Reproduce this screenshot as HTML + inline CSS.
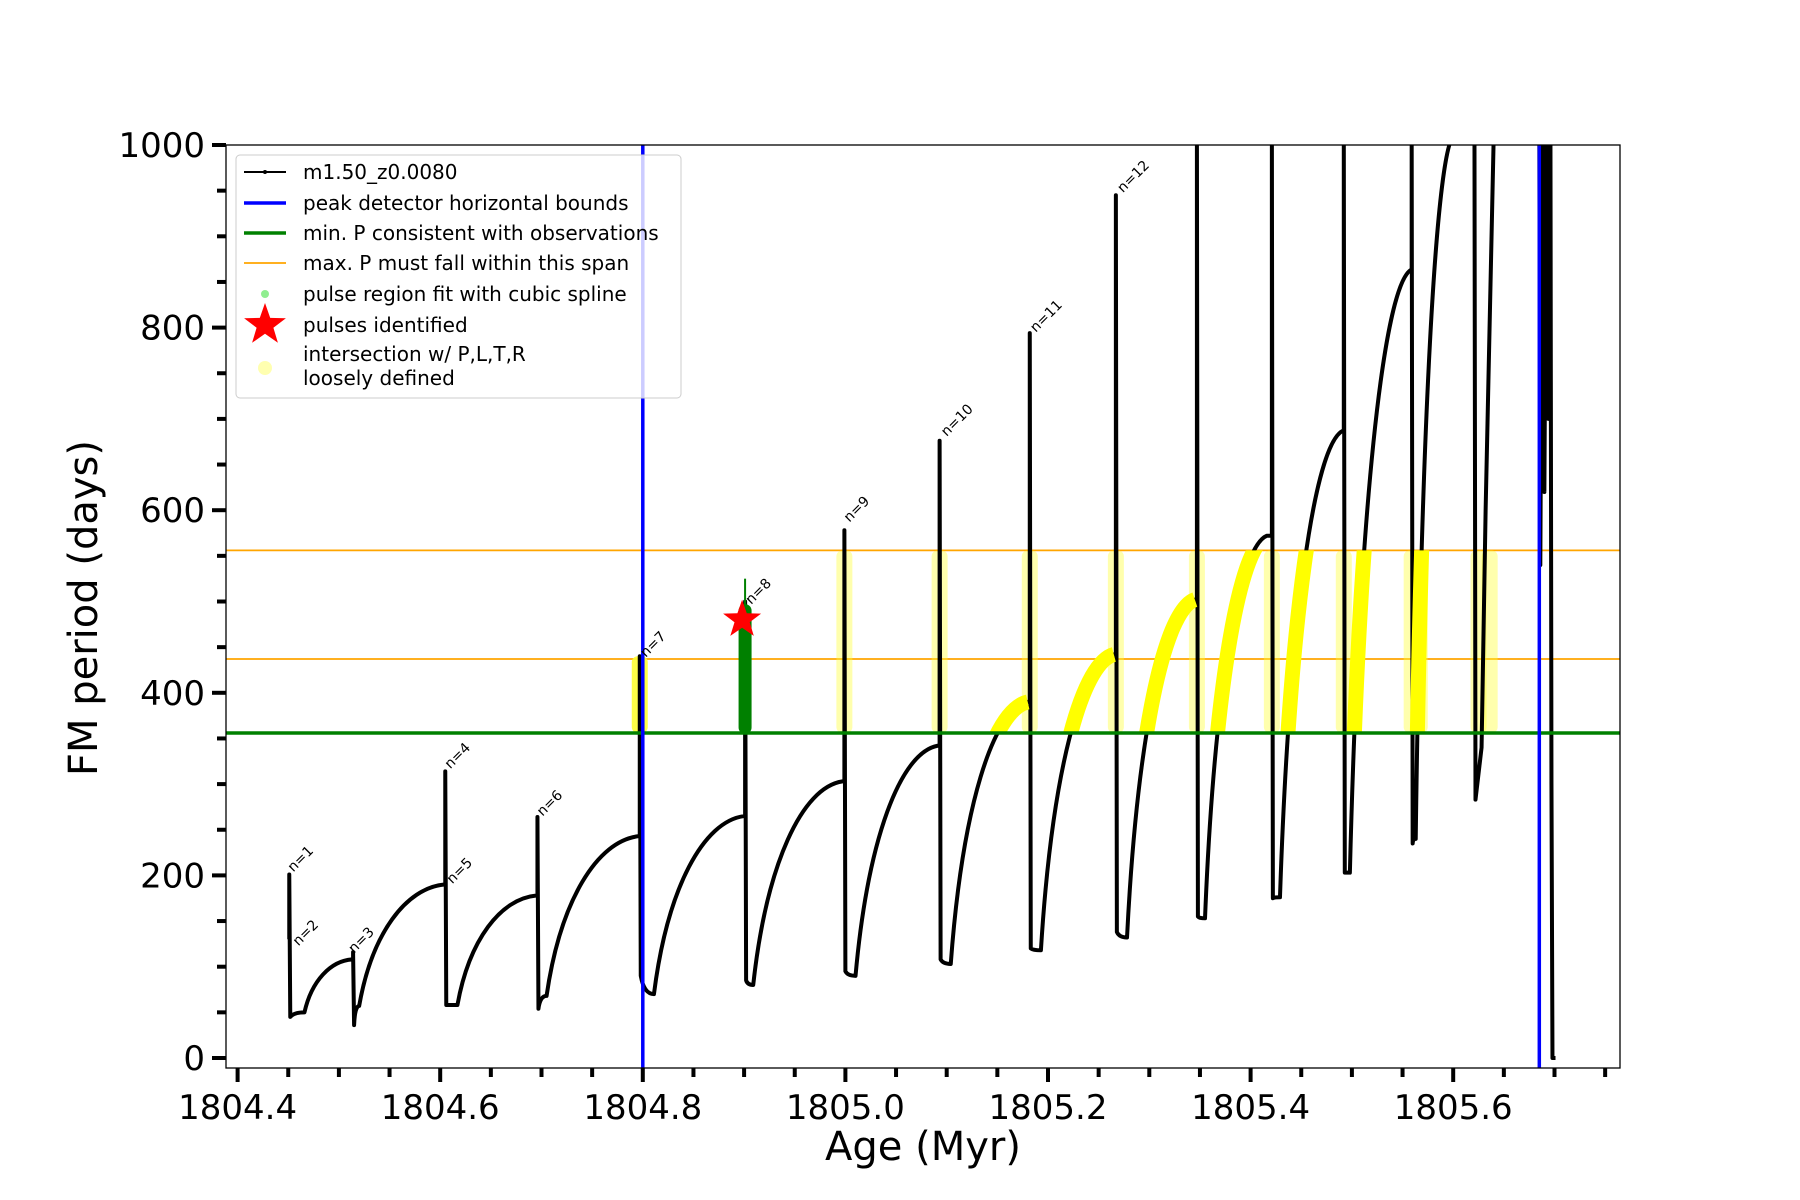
<!DOCTYPE html>
<html><head><meta charset="utf-8"><style>
body{margin:0;background:#fff}
svg{display:block;font-family:"DejaVu Sans","Liberation Sans",sans-serif}
</style></head><body>
<svg id="chart" width="1800" height="1200" viewBox="0 0 1800 1200">
<defs><clipPath id="band"><rect id="bandRect" x="0" y="0" width="1800" height="100"/></clipPath>
<clipPath id="plot"><rect x="226" y="145" width="1394" height="923"/></clipPath></defs>
<g id="plotArea" clip-path="url(#plot)"></g>
<g id="axes"></g>
</svg>
<script>
const spikeAge=[1804.451,1804.514,1804.605,1804.696,1804.797,1804.901,1804.999,1805.093,1805.182,1805.267,1805.347,1805.421,1805.492,1805.559];
const spikeTop=[201,116,314,264,440,500,578,676,794,945,1010,1010,1010,1010];
const dropP=[45,36,58,54,90,85,95,108,120,138,155,175,203,235];
const minAge=[1804.466,1804.520,1804.617,1804.705,1804.811,1804.909,1805.010,1805.104,1805.193,1805.278,1805.355,1805.429,1805.498,1805.563];
const minP=[50,57,58,68,70,80,90,103,118,132,153,176,203,240];
const endAge=[1804.513,1804.604,1804.695,1804.796,1804.900,1804.997,1805.091,1805.180,1805.265,1805.345,1805.416,1805.491,1805.558,1805.600];
const endP=[108,190,178,243,265,303,342,390,442,502,572,687,863,1010];
const spikeYellow=[0,0,0,0,0.9,0,0.4,0.4,0.4,0.4,0.4,0.4,0.4,0.4];
const extraYellowAges=[1805.567,1805.625,1805.636];
const tailAges=[1805.621,1805.622,1805.628,1805.632,1805.640];
const tailP=[1010,283,340,600,1010];
const endAges=[1805.685,1805.686,1805.688,1805.690,1805.692,1805.694,1805.696,1805.697,1805.698,1805.701];
const endPs=[1010,540,1010,620,1010,700,1010,300,0,0];
const labelText=["n=1","n=2","n=3","n=4","n=5","n=6","n=7","n=8","n=9","n=10","n=11","n=12"];
const labelAge=[1804.452,1804.457,1804.512,1804.607,1804.609,1804.698,1804.800,1804.904,1805.001,1805.097,1805.185,1805.271];
const labelP=[201,120,112,314,188,262,436,494,584,678,792,945];
const xTicks=[1804.4,1804.6,1804.8,1805.0,1805.2,1805.4,1805.6];
const yTicks=[0,200,400,600,800,1000];
const blueBounds=[1804.8,1805.685];
const orangeLevels=[556,437];
const greenLevel=356;
const pulseAge=[1804.898];
const pulseP=[480];

const L=226,R=1620,T=145,B=1068;
const X=a=>237.6+(a-1804.4)*1013;
const Y=p=>1058-p*0.913;
const NS="http://www.w3.org/2000/svg";
function mk(tag,attrs,parent){const e=document.createElementNS(NS,tag);for(const k in attrs)e.setAttribute(k,attrs[k]);parent.appendChild(e);return e;}
const plot=document.getElementById('plotArea'),axes=document.getElementById('axes');
const br=document.getElementById('bandRect');br.setAttribute('y',Y(orangeLevels[0]));br.setAttribute('height',Y(greenLevel)-Y(orangeLevels[0]));

orangeLevels.forEach(v=>{const l=mk('line',{x1:L,x2:R,y1:Y(v),y2:Y(v),stroke:'#ffa500','stroke-width':1.8},plot);

});

function yCol(a,top,op){const t=Math.min(top,orangeLevels[0]);
const r=mk('rect',{x:X(a)-8,y:Y(t),width:16,height:Y(greenLevel)-Y(t),rx:6,fill:'#ffff33',opacity:op},plot);

}
spikeAge.forEach((a,i)=>{if(spikeYellow[i])yCol(a,spikeTop[i],spikeYellow[i]);});
extraYellowAges.forEach(a=>yCol(a,1000,0.4));

let d='',rise='';
spikeAge.forEach((a,i)=>{
 const prev=i?endP[i-1]:130;
 d+=`${i?'L':'M'}${X(a)},${Y(prev)} L${X(a)},${Y(spikeTop[i])} L${X(a)+1},${Y(dropP[i])} `;
 const cx=X(a)+(X(minAge[i])-X(a))*0.3;
 d+=`Q${cx},${Y(minP[i])} ${X(minAge[i])},${Y(minP[i])} `;
 const dt=X(endAge[i])-X(minAge[i]);
 const seg=`C${X(minAge[i])+dt*0.15},${Y(minP[i]+(endP[i]-minP[i])*0.6)} ${X(minAge[i])+dt*0.55},${Y(endP[i]-(endP[i]-minP[i])*0.03)} ${X(endAge[i])},${Y(endP[i])} `;
 d+=seg;
 rise+=`M${X(minAge[i])},${Y(minP[i])} `+seg;
});
d+='M'+tailAges.map((a,i)=>X(a)+','+Y(tailP[i])).join(' L')+' ';
d+='M'+endAges.map((a,i)=>X(a)+','+Y(endPs[i])).join(' L');
const curve=mk('path',{d:d,fill:'none',stroke:'#000','stroke-width':4,'stroke-linejoin':'round'},plot);


const yel=mk('path',{d:rise,fill:'none',stroke:'#ffff00','stroke-width':15,'clip-path':'url(#band)'},plot);



const gl=mk('line',{x1:L,x2:R,y1:Y(greenLevel),y2:Y(greenLevel),stroke:'#008000','stroke-width':3.5},plot);


blueBounds.forEach(a=>{const l=mk('line',{x1:X(a),x2:X(a),y1:T,y2:B,stroke:'#0000ff','stroke-width':3.5},plot);

});

const gx=X(pulseAge[0])+3;
const gr=mk('line',{x1:gx,x2:gx,y1:Y(490),y2:Y(362),stroke:'#008000','stroke-width':13,'stroke-linecap':'round'},plot);


mk('line',{x1:gx,x2:gx,y1:Y(525),y2:Y(490),stroke:'#008000','stroke-width':2},plot);
function star(cx,cy,Rr,parent){let p=[];for(let i=0;i<10;i++){const r=i%2?Rr*0.4:Rr;const an=-Math.PI/2+i*Math.PI/5;p.push((cx+r*Math.cos(an)).toFixed(1)+','+(cy+r*Math.sin(an)).toFixed(1));}return mk('polygon',{points:p.join(' '),fill:'#ff0000'},parent);}
pulseAge.forEach((a,i)=>{const s=star(X(a),Y(pulseP[i]),20,plot);

});

labelText.forEach((t,i)=>{const x=X(labelAge[i])+3,y=Y(labelP[i])-2;const e=mk('text',{x:x,y:y,'font-size':14,transform:`rotate(-45 ${x} ${y})`},plot);e.textContent=t;

});

const fr=mk('rect',{x:L,y:T,width:R-L,height:B-T,fill:'none',stroke:'#000','stroke-width':1.3},axes);


for(let k=0;k<=27;k++){const a=1804.4+k*0.05;if(a>1805.79)break;const x=X(a);const major=k%4==0;
mk('line',{x1:x,x2:x,y1:B,y2:B+(major?14:9),stroke:'#000','stroke-width':4},axes);}
xTicks.forEach(a=>{const e=mk('text',{x:X(a),y:1119,'font-size':34,'text-anchor':'middle'},axes);e.textContent=a.toFixed(1);

});
for(let v=0;v<=1000;v+=50){const y=Y(v);const major=v%200==0;mk('line',{x1:L-(major?14:9),x2:L,y1:y,y2:y,stroke:'#000','stroke-width':4},axes);}
yTicks.forEach(v=>{const e=mk('text',{x:205,y:Y(v)+12,'font-size':34,'text-anchor':'end'},axes);e.textContent=v;

});
const xt=mk('text',{x:923,y:1160,'font-size':40,'text-anchor':'middle'},axes);xt.textContent='Age (Myr)';


const yt=mk('text',{x:97,y:608,'font-size':40,'text-anchor':'middle',transform:'rotate(-90 97 608)'},axes);yt.textContent='FM period (days)';



const lg=mk('g',{},axes);


mk('rect',{x:236,y:155,width:445,height:243,rx:4,fill:'#fff','fill-opacity':0.8,stroke:'#ccc','stroke-width':1},lg);
const rows=[[172,'m1.50_z0.0080'],[203,'peak detector horizontal bounds'],[233,'min. P consistent with observations'],[263,'max. P must fall within this span'],[294,'pulse region fit with cubic spline'],[325,'pulses identified']];
rows.forEach(r=>{const e=mk('text',{x:303,y:r[0]+7,'font-size':20},lg);e.textContent=r[1];

});
mk('line',{x1:244,x2:286,y1:172,y2:172,stroke:'#000','stroke-width':2},lg);mk('circle',{cx:265,cy:172,r:2},lg);
mk('line',{x1:244,x2:286,y1:203,y2:203,stroke:'#0000ff','stroke-width':3.5},lg);
mk('line',{x1:244,x2:286,y1:233,y2:233,stroke:'#008000','stroke-width':3.5},lg);
mk('line',{x1:244,x2:286,y1:263,y2:263,stroke:'#ffa500','stroke-width':1.8},lg);
mk('circle',{cx:265,cy:294,r:4,fill:'#90ee90'},lg);
star(265,325,22,lg);
mk('circle',{cx:265,cy:368,r:7,fill:'#ffffb0'},lg);
const t1=mk('text',{x:303,y:361,'font-size':20},lg);t1.textContent='intersection w/ P,L,T,R';


const t2=mk('text',{x:303,y:385,'font-size':20},lg);t2.textContent='loosely defined';


</script>
</body></html>
